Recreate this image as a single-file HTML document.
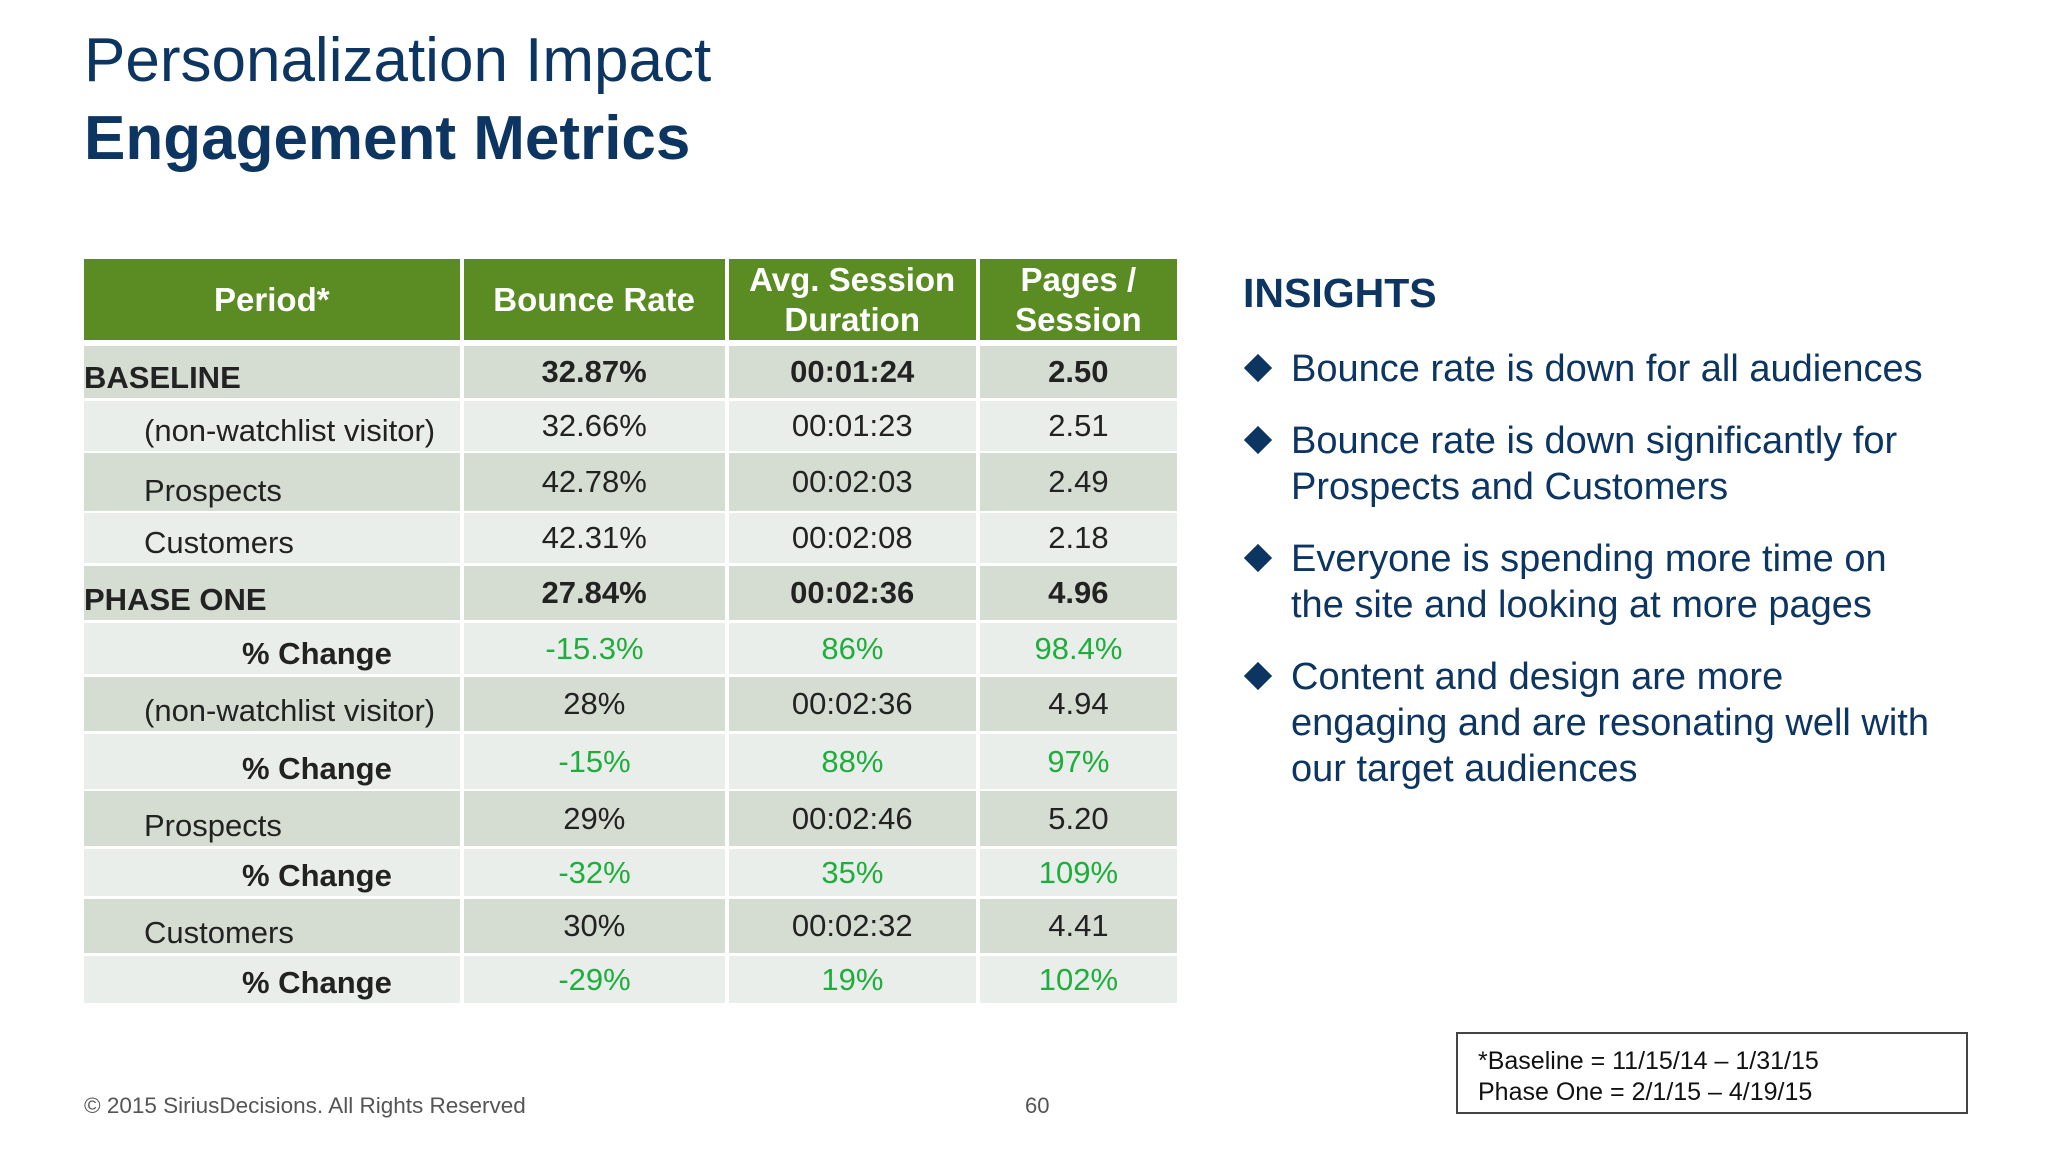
<!DOCTYPE html>
<html><head><meta charset="utf-8"><style>
body{margin:0;width:2048px;height:1152px;background:#fff;position:relative;overflow:hidden;font-family:"Liberation Sans",sans-serif;}
.a{position:absolute;}
.t1{left:84px;top:25px;font-size:62px;color:#0d3561;}
.t2{left:84px;top:103px;font-size:62px;font-weight:bold;color:#0d3561;}
.row{position:absolute;left:84px;width:1093px;display:flex;}
.row div{box-sizing:border-box;margin-right:4px;font-size:31px;color:#222;display:flex;justify-content:center;align-items:center;padding-bottom:0px;}
.row div:last-child{margin-right:0}
.c1{width:377px}.c2{width:262px}.c3{width:248px}.c4{width:198px}
.row div.l{justify-content:flex-start;align-items:flex-end;padding-bottom:2px;}
.d div{background:#d5ddd2}.g div{background:#eaeeea}
.h div{background:#5b8c23;color:#fff;font-weight:bold;font-size:33px;text-align:center;line-height:40px;padding:0}
.b{font-weight:bold}
.gr div:not(.l){color:#1fae3e}
.ins{left:1243px;top:270px;font-size:41px;font-weight:bold;color:#0d3561;}
.bl{position:absolute;left:1246px;font-size:38px;line-height:46px;color:#0d3561;}
.bl:before{content:"";position:absolute;left:2px;top:12px;width:20px;height:20px;background:#0d3561;transform:rotate(45deg);}
.bl span{display:block;margin-left:45px;width:650px}
</style></head><body>
<div class="a t1">Personalization Impact</div>
<div class="a t2">Engagement Metrics</div>

<div class="row h" style="top:259px;height:81px"><div class="c1">Period*</div><div class="c2">Bounce Rate</div><div class="c3">Avg. Session<br>Duration</div><div class="c4">Pages /<br>Session</div></div>

<div class="row d" style="top:346px;height:52px"><div class="c1 l b">BASELINE</div><div class="c2 b">32.87%</div><div class="c3 b">00:01:24</div><div class="c4 b">2.50</div></div>
<div class="row g" style="top:401px;height:50px"><div class="c1 l" style="padding-left:60px">(non-watchlist visitor)</div><div class="c2">32.66%</div><div class="c3">00:01:23</div><div class="c4">2.51</div></div>
<div class="row d" style="top:453px;height:58px"><div class="c1 l" style="padding-left:60px">Prospects</div><div class="c2">42.78%</div><div class="c3">00:02:03</div><div class="c4">2.49</div></div>
<div class="row g" style="top:513px;height:50px"><div class="c1 l" style="padding-left:60px">Customers</div><div class="c2">42.31%</div><div class="c3">00:02:08</div><div class="c4">2.18</div></div>
<div class="row d" style="top:566px;height:54px"><div class="c1 l b">PHASE ONE</div><div class="c2 b">27.84%</div><div class="c3 b">00:02:36</div><div class="c4 b">4.96</div></div>
<div class="row g gr" style="top:623px;height:51px"><div class="c1 l b" style="padding-left:158px">% Change</div><div class="c2">-15.3%</div><div class="c3">86%</div><div class="c4">98.4%</div></div>
<div class="row d" style="top:677px;height:54px"><div class="c1 l" style="padding-left:60px">(non-watchlist visitor)</div><div class="c2">28%</div><div class="c3">00:02:36</div><div class="c4">4.94</div></div>
<div class="row g gr" style="top:734px;height:55px"><div class="c1 l b" style="padding-left:158px">% Change</div><div class="c2">-15%</div><div class="c3">88%</div><div class="c4">97%</div></div>
<div class="row d" style="top:791px;height:55px"><div class="c1 l" style="padding-left:60px">Prospects</div><div class="c2">29%</div><div class="c3">00:02:46</div><div class="c4">5.20</div></div>
<div class="row g gr" style="top:849px;height:47px"><div class="c1 l b" style="padding-left:158px">% Change</div><div class="c2">-32%</div><div class="c3">35%</div><div class="c4">109%</div></div>
<div class="row d" style="top:899px;height:54px"><div class="c1 l" style="padding-left:60px">Customers</div><div class="c2">30%</div><div class="c3">00:02:32</div><div class="c4">4.41</div></div>
<div class="row g gr" style="top:956px;height:47px"><div class="c1 l b" style="padding-left:158px">% Change</div><div class="c2">-29%</div><div class="c3">19%</div><div class="c4">102%</div></div>

<div class="a ins">INSIGHTS</div>
<div class="bl" style="top:346px"><span>Bounce rate is down for all audiences</span></div>
<div class="bl" style="top:418px"><span>Bounce rate is down significantly for Prospects and Customers</span></div>
<div class="bl" style="top:536px"><span>Everyone is spending more time on the site and looking at more pages</span></div>
<div class="bl" style="top:654px"><span>Content and design are more engaging and are resonating well with our target audiences</span></div>

<div class="a" style="left:84px;top:1093px;font-size:22.5px;color:#555">© 2015 SiriusDecisions. All Rights Reserved</div>
<div class="a" style="left:1025px;top:1093px;font-size:22px;color:#555">60</div>
<div class="a" style="left:1456px;top:1032px;width:512px;height:82px;border:2px solid #444;box-sizing:border-box;padding:12px 0 0 20px;font-size:25px;line-height:31px;color:#111">*Baseline = 11/15/14 – 1/31/15<br>Phase One = 2/1/15 – 4/19/15</div>
</body></html>
